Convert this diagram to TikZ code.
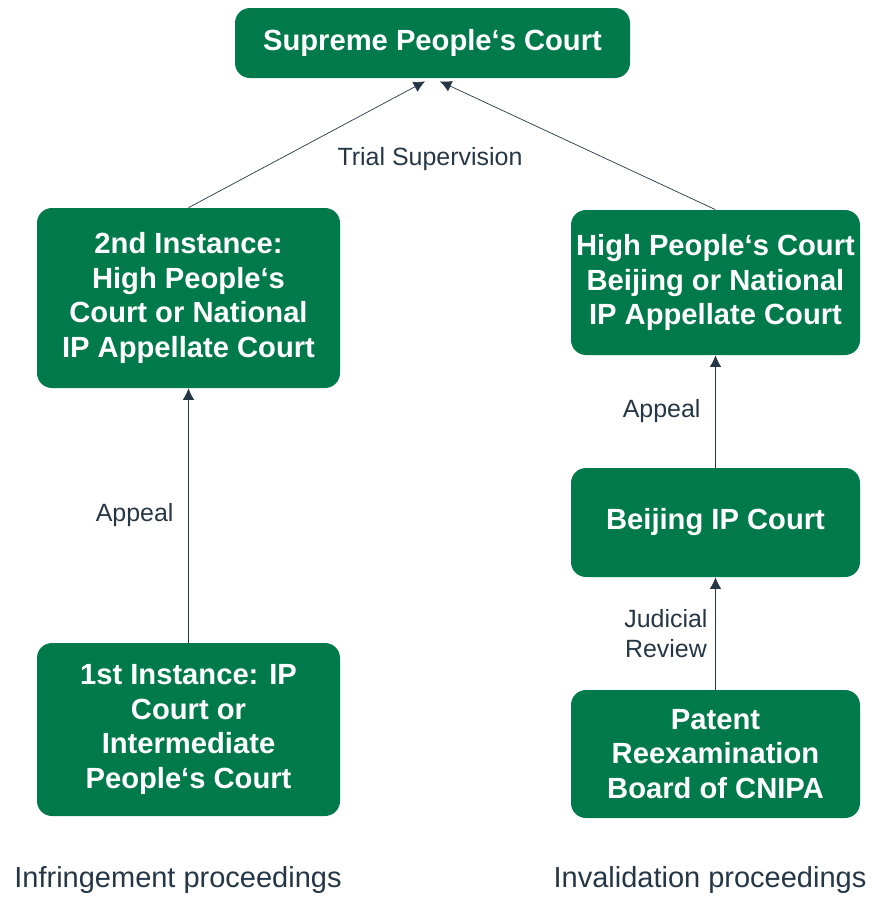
\documentclass[tikz,border=0pt]{standalone}
\usepackage{fontspec}
\setmainfont{Liberation Sans}
\usetikzlibrary{arrows.meta}
\definecolor{courtgreen}{HTML}{007A4B}
\definecolor{linegray}{HTML}{253746}
\tikzset{
  court/.style={fill=courtgreen, rounded corners=0.3cm, text=white, align=center,
    font=\fontsize{16.6}{19.8}\selectfont\bfseries, inner sep=0pt},
  lbl/.style={text=linegray, align=center, font=\fontsize{14.2}{17}\selectfont},
  conn/.style={color=linegray, thin, -{Latex[length=6.5pt,width=6.5pt]}}
}
\begin{document}
\begin{tikzpicture}
\useasboundingbox (0,0) rectangle (17.44,-17.94);
% courts
\node[court, minimum width=7.9cm, minimum height=1.4cm] (sup) at (8.65,-0.86) {Supreme People‘s Court};
\node[court, minimum width=6.06cm, minimum height=3.6cm] (sec) at (3.77,-5.96) {2nd Instance:\\High People‘s\\Court or National\\IP Appellate Court};
\node[court, minimum width=6.06cm, minimum height=3.46cm] (fst) at (3.77,-14.59) {1st Instance: IP\\Court or\\Intermediate\\People‘s Court};
\node[court, minimum width=5.78cm, minimum height=2.9cm] (high) at (14.31,-5.65) {High People‘s Court\\Beijing or National\\IP Appellate Court};
\node[court, minimum width=5.78cm, minimum height=2.18cm] (bip) at (14.31,-10.45) {Beijing IP Court};
\node[court, minimum width=5.78cm, minimum height=2.56cm] (pat) at (14.31,-15.08) {Patent\\Reexamination\\Board of CNIPA};
% connectors
\draw[conn] (sec.north) -- ([xshift=-0.15cm,yshift=-0.06cm]sup.south);
\draw[conn] (high.north) -- ([xshift=0.15cm,yshift=-0.06cm]sup.south);
\node[lbl] (trial) at (8.6,-3.18) {Trial Supervision};
\draw[conn] (fst) -- node[lbl, midway, left=5pt] (app1) {Appeal} (sec);
\draw[conn] (bip) -- node[lbl, midway, left=5pt] (app2) {Appeal} (high);
\draw[conn] (pat) -- node[lbl, midway, left=1pt] (jud) {Judicial\\Review} (bip);
% captions
\node[lbl, font=\fontsize{16.5}{19}\selectfont] (infr) at (3.56,-17.6) {Infringement proceedings};
\node[lbl, font=\fontsize{16.5}{19}\selectfont] (inva) at (14.2,-17.6) {Invalidation proceedings};
\end{tikzpicture}
\end{document}
